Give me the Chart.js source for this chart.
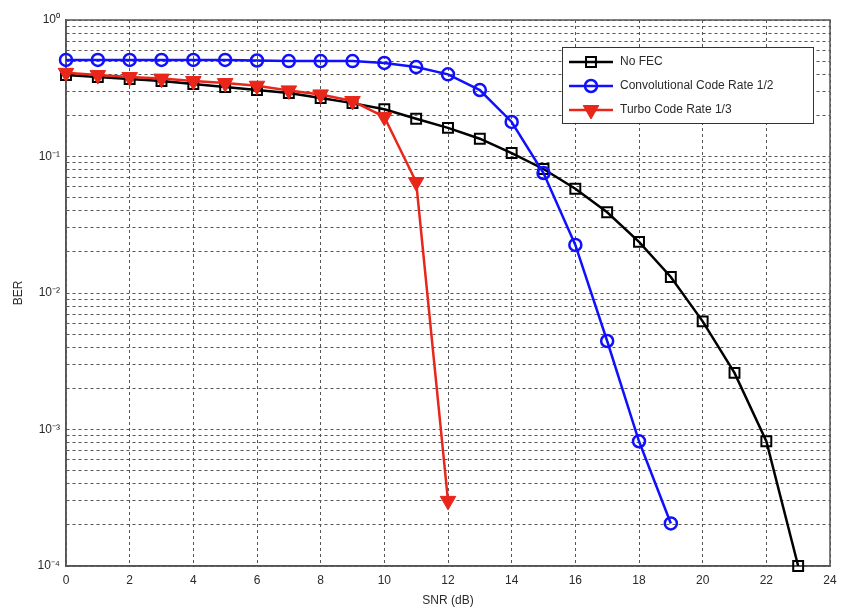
<!DOCTYPE html>
<html lang="en">
<head>
<meta charset="UTF-8">
<title>BER vs SNR</title>
<style>
  html, body { margin: 0; padding: 0; background: #fff; }
  #wrap { width: 846px; height: 616px; }
</style>
</head>
<body>
<div id="wrap"><canvas id="berChart"></canvas></div>
<script src="https://cdn.jsdelivr.net/npm/chart.js@4.4.0/dist/chart.umd.min.js"></script>
<script>
// SNR points (dB)
var snr = [0, 1, 2, 3, 4, 5, 6, 7, 8, 9, 10, 11, 12, 13, 14, 15, 16, 17, 18, 19, 20, 21, 22, 23];

// BER per scheme
var noFec = [0.395, 0.382, 0.370, 0.357, 0.340, 0.323, 0.307, 0.292, 0.268, 0.246,
             0.222, 0.189, 0.162, 0.135, 0.106, 0.081, 0.058, 0.039, 0.0237, 0.0131,
             0.0062, 0.0026, 0.00082, 0.0001];
var convCode = [0.51, 0.51, 0.51, 0.51, 0.51, 0.51, 0.505, 0.50, 0.50, 0.50,
                0.485, 0.452, 0.40, 0.307, 0.179, 0.0757, 0.0225, 0.00445, 0.00082, 0.000205];
var turboCode = [0.41, 0.395, 0.382, 0.372, 0.357, 0.345, 0.330, 0.305, 0.285, 0.255,
                 0.195, 0.065, 0.0003];

var seriesNames = ['No FEC', 'Convolutional Code Rate 1/2', 'Turbo Code Rate 1/3'];
var xTicks = [0, 2, 4, 6, 8, 10, 12, 14, 16, 18, 20, 22, 24];
var yExponents = [-4, -3, -2, -1, 0];

var supDigits = { '0': '\u2070', '1': '\u00b9', '2': '\u00b2', '3': '\u00b3', '4': '\u2074',
                  '5': '\u2075', '6': '\u2076', '7': '\u2077', '8': '\u2078', '9': '\u2079', '-': '\u207b' };

function toPoints(ys) {
    return ys.map(function (v, i) { return { x: snr[i], y: v }; });
}

function superscript(n) {
    return String(n).split('').map(function (c) { return supDigits[c]; }).join('');
}

// every 1..9 x 10^k between the decades, for the dotted minor grid
var yGridValues = [];
for (var k = 0; k < yExponents.length; k++) {
    var e = yExponents[k];
    if (e === 0) { yGridValues.push(1); break; }
    for (var m = 1; m <= 9; m++) {
        yGridValues.push(m * Math.pow(10, e));
    }
}

var FONT = "'Liberation Sans', Arial, sans-serif";
var TEXT = '#2a2a2a';
var GRID = '#555555';

// frame round the plot area
var framePlugin = {
    id: 'frame',
    beforeDatasetsDraw: function (chart) {
        var a = chart.chartArea, ctx = chart.ctx;
        ctx.save();
        ctx.strokeStyle = '#555';
        ctx.lineWidth = 1.5;
        ctx.strokeRect(a.left, a.top, a.right - a.left, a.bottom - a.top);
        ctx.restore();
    }
};

// boxed legend in the top right corner
var legendBox = {
    id: 'legendBox',
    afterDraw: function (chart) {
        var ctx = chart.ctx;
        var x0 = 562, y0 = 47, w = 251, h = 76;
        ctx.save();
        ctx.fillStyle = '#fff';
        ctx.fillRect(x0, y0, w, h);
        ctx.strokeStyle = '#333';
        ctx.lineWidth = 1;
        ctx.strokeRect(x0 + 0.5, y0 + 0.5, w, h);
        chart.data.datasets.forEach(function (ds, i) {
            var y = 62 + i * 24;
            ctx.strokeStyle = ds.borderColor;
            ctx.lineWidth = ds.borderWidth;
            ctx.beginPath();
            ctx.moveTo(569, y);
            ctx.lineTo(613, y);
            ctx.stroke();
            ctx.fillStyle = ds.pointBackgroundColor;
            ctx.strokeStyle = ds.pointBorderColor;
            ctx.lineWidth = ds.pointBorderWidth;
            Chart.helpers.drawPoint(ctx, {
                pointStyle: ds.pointStyle,
                radius: ds.pointRadius,
                rotation: ds.pointRotation || 0,
                borderWidth: ds.pointBorderWidth
            }, 591, y);
            ctx.fillStyle = TEXT;
            ctx.font = '12px ' + FONT;
            ctx.textBaseline = 'middle';
            ctx.textAlign = 'left';
            ctx.fillText(ds.label, 620, y);
        });
        ctx.restore();
    }
};

new Chart(document.getElementById('berChart'), {
    type: 'line',
    data: {
        datasets: [{
            label: seriesNames[0],
            data: toPoints(noFec),
            order: 2,
            clip: false,
            borderColor: '#000000',
            borderWidth: 2.5,
            pointStyle: 'rect',
            pointRadius: 7,
            pointBorderWidth: 2,
            pointBorderColor: '#000000',
            pointBackgroundColor: 'rgba(0,0,0,0)'
        }, {
            label: seriesNames[1],
            data: toPoints(convCode),
            order: 1,
            clip: false,
            borderColor: '#1010ff',
            borderWidth: 2.5,
            pointStyle: 'circle',
            pointRadius: 6,
            pointBorderWidth: 2.5,
            pointBorderColor: '#1010ff',
            pointBackgroundColor: 'rgba(0,0,0,0)'
        }, {
            label: seriesNames[2],
            data: toPoints(turboCode),
            order: 0,
            clip: false,
            borderColor: '#e8261a',
            borderWidth: 2.5,
            pointStyle: 'triangle',
            pointRotation: 180,
            pointRadius: 9,
            pointBorderWidth: 1,
            pointBorderColor: '#e8261a',
            pointBackgroundColor: '#e8261a'
        }]
    },
    options: {
        responsive: true,
        maintainAspectRatio: false,
        animation: false,
        events: [],
        layout: { padding: { left: 0, right: 16, top: 20, bottom: 0 } },
        elements: { line: { tension: 0 } },
        plugins: { legend: { display: false }, tooltip: { enabled: false } },
        scales: {
            x: {
                type: 'linear',
                min: 0,
                max: 24,
                afterBuildTicks: function (scale) {
                    scale.ticks = xTicks.map(function (v) { return { value: v }; });
                },
                afterFit: function (scale) { scale.height = 50; },
                ticks: { color: TEXT, font: { family: FONT, size: 12 }, padding: 7, maxRotation: 0 },
                grid: { color: GRID, lineWidth: 1, drawTicks: false },
                border: { display: true, color: '#555', width: 1.5, dash: [3, 3] },
                title: { display: true, text: 'SNR (dB)', color: TEXT,
                         font: { family: FONT, size: 12 }, padding: { top: 0, bottom: 8 } }
            },
            y: {
                type: 'logarithmic',
                min: 1e-4,
                max: 1,
                afterBuildTicks: function (scale) {
                    scale.ticks = yGridValues.map(function (v) { return { value: v }; });
                },
                afterFit: function (scale) { scale.width = 66; },
                ticks: {
                    autoSkip: false,
                    color: TEXT,
                    font: { family: FONT, size: 12 },
                    padding: 6,
                    callback: function (v) {
                        var lg = Math.log10(v);
                        if (Math.abs(lg - Math.round(lg)) > 1e-9) return '';
                        return '10' + superscript(Math.round(lg));
                    }
                },
                grid: { color: GRID, lineWidth: 1, drawTicks: false },
                border: { display: true, color: '#555', width: 1.5, dash: [3, 3] },
                title: { display: true, text: 'BER', color: TEXT,
                         font: { family: FONT, size: 12 }, padding: { top: 11, bottom: 0 } }
            }
        }
    },
    plugins: [framePlugin, legendBox]
});
</script>
</body>
</html>
